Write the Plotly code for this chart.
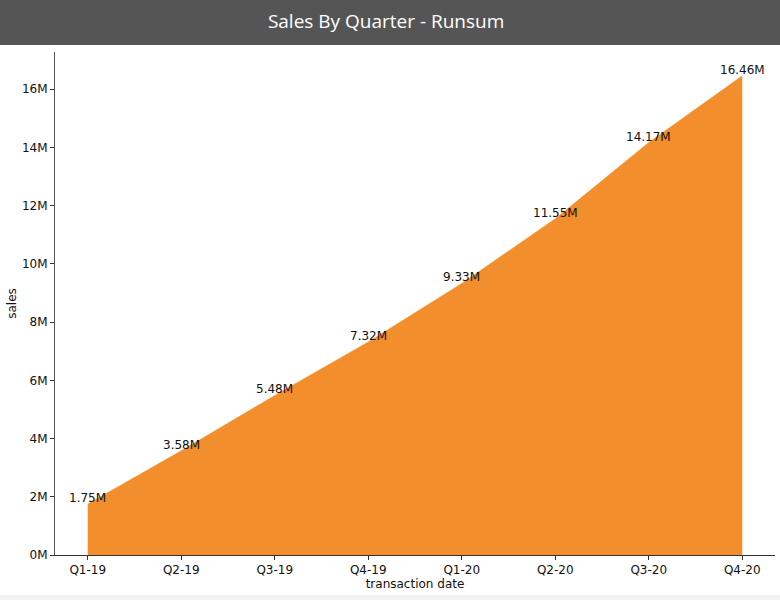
import plotly.graph_objects as go

quarters = ["Q1-19", "Q2-19", "Q3-19", "Q4-19", "Q1-20", "Q2-20", "Q3-20", "Q4-20"]
sales_m = [1.75, 3.58, 5.48, 7.32, 9.33, 11.55, 14.17, 16.46]
labels = ["1.75M", "3.58M", "5.48M", "7.32M", "9.33M", "11.55M", "14.17M", "16.46M"]
ytick_vals = [0, 2, 4, 6, 8, 10, 12, 14, 16]
ytick_text = ["0M", "2M", "4M", "6M", "8M", "10M", "12M", "14M", "16M"]

W, H = 780, 600
ML, MR, MT, MB = 55, 5, 52, 45
ph = H - MT - MB

def py(px_from_top):
    # convert pixel y (from top of page) to paper coordinate
    return (H - MB - px_from_top) / ph

fig = go.Figure()
fig.add_trace(go.Scatter(
    x=quarters, y=sales_m, mode="lines", fill="tozeroy",
    fillcolor="#f28e2b", line=dict(color="#f28e2b", width=0.5),
    hoverinfo="skip", showlegend=False,
))

for q, v, t in zip(quarters, sales_m, labels):
    fig.add_annotation(x=q, y=v, text=t, showarrow=False, xanchor="center",
                       yanchor="bottom", yshift=-3,
                       font=dict(family="DejaVu Sans", size=12, color="#111"))

fig.add_shape(type="rect", xref="paper", yref="paper", x0=-ML / (W - ML - MR), x1=1 + MR / (W - ML - MR),
              y0=py(45), y1=py(0), fillcolor="#555555", line=dict(width=0), layer="below")
fig.add_shape(type="rect", xref="paper", yref="paper", x0=-ML / (W - ML - MR), x1=1 + MR / (W - ML - MR),
              y0=py(600), y1=py(595), fillcolor="#f2f2f2", line=dict(width=0), layer="below")

fig.update_layout(
    width=W, height=H,
    margin=dict(l=ML, r=MR, t=MT, b=MB),
    paper_bgcolor="white", plot_bgcolor="white",
    title=dict(text="Sales By Quarter - Runsum", x=0.495, xanchor="center", xref="container",
               y=1 - 21 / H, yanchor="middle", yref="container",
               font=dict(family="Open Sans", size=19, color="white")),
    font=dict(family="DejaVu Sans", size=12, color="#111"),
    xaxis=dict(type="category", range=[-0.35, 7.35], showgrid=False, zeroline=False,
               showline=True, linecolor="#333", linewidth=1,
               ticks="outside", ticklen=4, tickcolor="#333",
               title=dict(text="transaction date", standoff=0, font=dict(size=12))),
    yaxis=dict(range=[0, 17.28], showgrid=False, zeroline=False,
               showline=True, linecolor="#555", linewidth=1,
               ticks="outside", ticklen=4, tickcolor="#333",
               tickvals=ytick_vals, ticktext=ytick_text,
               title=dict(text="sales", standoff=2, font=dict(size=12))),
)

fig.write_html("out.html")
